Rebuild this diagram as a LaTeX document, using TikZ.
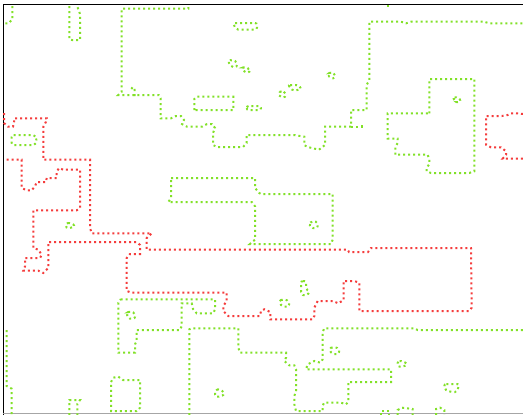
\documentclass[tikz,border=0pt]{standalone}
\definecolor{cgreen}{RGB}{130,225,40}
\definecolor{cred}{RGB}{245,60,60}
\tikzset{
  gdot/.style={draw=cgreen,line width=2pt,dash pattern=on 2pt off 3pt},
  rdot/.style={draw=cred,line width=2pt,dash pattern=on 2pt off 3pt},
  blob/.style={gdot,rounded corners=2pt},
  frameline/.style={draw=black,line width=1.3pt},
}
\begin{document}
\begin{tikzpicture}[x=1pt,y=-1pt]
\useasboundingbox[fill=white] (0,0) rectangle (523,415);
% ---------- frame ----------
\draw[frameline] (3.3,415) -- (3.3,4.7) -- (523,4.7);
\draw[draw=gray!70,line width=1.2pt] (3.3,413.6) -- (523,413.6);
% ---------- green contours ----------
\draw[gdot] (12.3,6) -- (12.3,19.3) -- (8.7,23.3) -- (4.7,23.3);
\draw[gdot] (69.3,6) -- (69.3,39) -- (72,40) -- (80,40) -- (80,14) -- (77.3,6.5);
\draw[gdot] (188.3,7) -- (188.3,8.7) -- (121.7,8.7) -- (121.7,91.7) -- (118.3,95) -- (158.7,95)
  -- (160.7,98.3) -- (160.7,118.3) -- (171,118.3) -- (176,116) -- (181,116) -- (184,120)
  -- (182,124) -- (187,126.7) -- (202,126.7) -- (207,124) -- (212,124) -- (215,128)
  -- (213,133) -- (213,145) -- (217,147) -- (243,147) -- (246.7,143) -- (246.7,135)
  -- (294,135) -- (304.3,136.7) -- (304.3,145.3) -- (309,147.3) -- (319,149.7)
  -- (325,145) -- (325,126.7) -- (351,126.7) -- (351,110) -- (366.7,110) -- (366.7,85)
  -- (369.3,80) -- (369.3,21.7) -- (401,21.7) -- (406,23.3) -- (411,21.7) -- (484,21.7)
  -- (489.3,23.3) -- (523,23.3);
\draw[gdot] (351,126.7) -- (361.7,126.7) -- (361.7,122.7);
\draw[gdot] (134.7,96) -- (134.7,90) -- (133,87) -- (130.3,90);
\draw[gdot] (194.3,110) -- (194.3,99) -- (196.7,96.7) -- (233.3,96.7) -- (233.3,110) -- cycle;
\draw[blob] (246.7,106) rectangle (261,110);
\draw[blob] (233,23) -- (257,23) -- (257,29.5) -- (236,29.5) -- cycle;
\draw[blob] (228,61) -- (232,59.5) -- (237,62) -- (237,67) -- (231,67) -- cycle;
\draw[blob] (241.7,68) -- (245,66.7) -- (249.5,69) -- (250,72.3) -- (244,72.3) -- cycle;
\draw[blob] (288,85) -- (298,85) -- (301.7,89) -- (293,91) -- cycle;
\draw[blob] (278,93) -- (282,90.7) -- (285.5,92) -- (285.5,97.3) -- (280,97.3) -- cycle;
\draw[blob] (328,74) -- (331,71.7) -- (335,73.5) -- (335,78.3) -- (330,78.3) -- cycle;
\fill[cgreen] (386.7,4.7) rectangle (388.7,6.7);
\draw[gdot] (429.3,113.3) -- (429.3,79) -- (474.3,79) -- (474.3,171.3) -- (469.3,173)
  -- (431,173) -- (426.7,171.3) -- (426.7,168) -- (429.3,164) -- (429.3,159.7)
  -- (427.7,154.7) -- (395.3,154.7) -- (395.3,147) -- (397.7,143) -- (397.7,138.5)
  -- (387.7,138.5) -- (387.7,113.3) -- cycle;
\draw[blob] (452.7,97.3) -- (458,97.3) -- (461,100.5) -- (458,103.3) -- (455,101) -- cycle;
\draw[blob] (11.7,135) -- (35,135) -- (36.7,138.3) -- (35.7,145) -- (11.7,145) -- cycle;
\draw[blob] (66,223) -- (71,223) -- (75,225.5) -- (72,228) -- (66,228) -- cycle;
\draw[gdot] (171,178) -- (255,178) -- (255,188) -- (259.3,193) -- (261,194) -- (332.7,194)
  -- (332.7,239.7) -- (331,244) -- (250,244) -- (255,239.7) -- (255,206.3) -- (251.7,202)
  -- (168.3,202) -- (171,198) -- cycle;
\draw[blob] (309,224) -- (312,221) -- (317.7,222) -- (317.7,228) -- (311,228) -- cycle;
\draw[gdot] (120.7,299.3) -- (215,299.3) -- (215,309.3) -- (213.3,313.3) -- (196.7,313.3)
  -- (193,309) -- (191.7,303.3) -- (181.7,303.3) -- (181.7,326) -- (180,330) -- (136.7,330)
  -- (136.7,341) -- (135,344.3) -- (135,352.7) -- (118.3,352.7) -- (118.3,302.7) -- cycle;
\draw[blob] (126.7,313) -- (130,311) -- (135,313) -- (135,318.7) -- (128,318.7) -- cycle;
\draw[gdot] (6.7,330) -- (6.7,386) -- (11.7,388.7) -- (11.7,415);
\draw[gdot] (69.3,415) -- (69.3,400) -- (80,400) -- (77.3,404) -- (77.3,415);
\draw[gdot] (111,382) -- (113.3,377.7) -- (118.3,376.7) -- (123,380) -- (140,380)
  -- (140,407.7) -- (136.7,411) -- (111,411) -- cycle;
\draw[gdot] (189.3,415) -- (189.3,329.3) -- (191.7,328.3) -- (238.3,328.3) -- (238.3,347.7)
  -- (240,352.7) -- (286,352.7) -- (286,357.7) -- (284.3,361) -- (289.3,365.3)
  -- (294.3,365.3) -- (296,369.3) -- (296,391) -- (294.3,396) -- (294.3,404.3) -- (296,411)
  -- (322.7,411) -- (322.7,406) -- (324,402.7) -- (341,402.7) -- (346,404.3) -- (348.3,402)
  -- (348.3,382) -- (391,382) -- (391,369.3) -- (306,369.3) -- (307.7,364.3) -- (314.3,361)
  -- (320.3,362.7) -- (322.7,359.3) -- (322.7,332) -- (324.3,328.3) -- (414.3,328.3)
  -- (417.7,330) -- (523,330);
\draw[blob] (301,281) -- (306,281) -- (306,289) -- (310,292.5) -- (305,296) -- (301,294) -- cycle;
\draw[blob] (279,301) -- (283,299) -- (289,301) -- (289,306.7) -- (282,306.7) -- cycle;
\draw[blob] (215,390) -- (220,389) -- (225,393.5) -- (221,396.7) -- (215,396.7) -- cycle;
\draw[blob] (329,349) -- (333,346.7) -- (339,348.5) -- (339,354) -- (332,354) -- cycle;
\draw[blob] (397.7,361) -- (403,361) -- (407.7,364.5) -- (403,366.7) -- (397.7,366.7) -- cycle;
\draw[blob] (444.3,384) -- (459.3,384) -- (457,392) -- (450,392) -- (444.3,389) -- cycle;
\draw[gdot] (381,415) -- (381,411) -- (389,411) -- (389,415);
\draw[gdot] (397.7,415) -- (397.7,410) -- (402,407.7) -- (412.7,409) -- (412.7,415);
\draw[gdot] (436,415) -- (436,409) -- (440,407.7) -- (444.3,410) -- (444.3,415);
% ---------- red contours ----------
\draw[rdot] (4,113) -- (4,123) -- (8,126.7) -- (13,126.7) -- (14,122) -- (14,118.3)
  -- (46.7,118.3) -- (46,121.7) -- (43.3,126.7) -- (43.3,159.7) -- (90,159.7) -- (90,228)
  -- (91.7,233.3) -- (151.7,233.3) -- (146.7,238) -- (146.7,249.7) -- (347.7,249.7)
  -- (349,252) -- (368,252) -- (371,248) -- (471,248) -- (471.7,307.7) -- (469.3,311)
  -- (359.3,311) -- (359.3,282.7) -- (354.3,281) -- (343.7,281) -- (343.7,300)
  -- (338.3,303.3) -- (332.7,301) -- (317.7,301) -- (314.3,307.7) -- (314.3,316)
  -- (312.7,319.3) -- (270.3,319.3) -- (270.3,312) -- (264.3,309.3) -- (261,311)
  -- (260,316) -- (228.3,316) -- (223.3,311) -- (223.3,306) -- (226.7,301) -- (226.7,292.7)
  -- (131.7,292.7) -- (126.7,291) -- (126.7,258) -- (130,254) -- (140,254) -- (140,245)
  -- (136.7,242) -- (48.3,242) -- (48.3,268) -- (43.3,273) -- (38.3,270.7) -- (23.3,270.7)
  -- (25,266.3) -- (25,258) -- (40,258) -- (41.7,254.7) -- (38.3,249.7) -- (33.3,248)
  -- (33.3,210.3) -- (76.7,210.3) -- (80,208) -- (80,169.7) -- (63,169.7) -- (59.3,168)
  -- (56.7,171.3) -- (56.7,178) -- (46.7,178) -- (46,182) -- (36.7,182) -- (35,186.3)
  -- (31.7,190.3) -- (26.7,190.3) -- (21.7,188) -- (21.7,159.7) -- (5,159.7);
\draw[rdot] (523,114) -- (516,113.3) -- (511,113.3) -- (507.7,115) -- (501.7,116) -- (486,116)
  -- (486,144.7) -- (491,147.3) -- (501,147.3) -- (506,151.3) -- (506,154.7) -- (502.7,158.7)
  -- (523,158.7);
\end{tikzpicture}
\end{document}
